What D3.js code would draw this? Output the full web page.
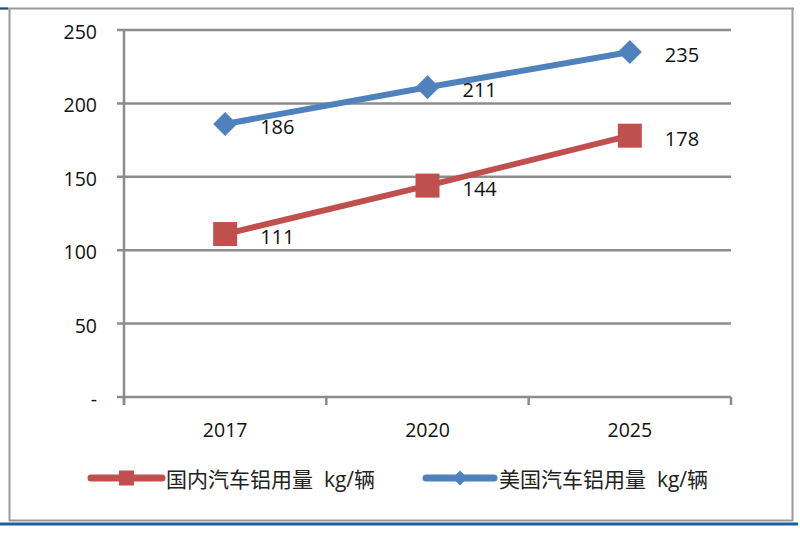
<!DOCTYPE html>
<html><head><meta charset="utf-8">
<script src="https://cdn.jsdelivr.net/npm/d3@7"></script>
<style>
html,body{margin:0;padding:0;background:#fff;}
svg text{font-family:"Open Sans","Noto Sans","Noto Sans CJK SC",sans-serif;}
</style></head>
<body>
<svg id="c" width="800" height="535"></svg>
<script>
const categories = ["2017","2020","2025"];
const domestic = [111,144,178];
const usa = [186,211,235];
const yTicks = [0,50,100,150,200,250];
const seriesNames = ["国内汽车铝用量  kg/辆","美国汽车铝用量  kg/辆"];
const colors = ["#C0504D","#4F81BD"];

const svg = d3.select("#c");
const gridCol="#8c8c8c";

// frame
svg.append("line").attr("x1",0).attr("x2",794).attr("y1",8.5).attr("y2",8.5).attr("stroke","#9a9a9a").attr("stroke-width",2);
svg.append("line").attr("x1",0).attr("x2",8).attr("y1",8.5).attr("y2",8.5).attr("stroke","#1f4e79").attr("stroke-width",2);
svg.append("line").attr("x1",9.5).attr("x2",9.5).attr("y1",8).attr("y2",521).attr("stroke","#9a9a9a").attr("stroke-width",2);
svg.append("line").attr("x1",792.5).attr("x2",792.5).attr("y1",8).attr("y2",521).attr("stroke","#9a9a9a").attr("stroke-width",2);
svg.append("line").attr("x1",9).attr("x2",793).attr("y1",520.5).attr("y2",520.5).attr("stroke","#9a9a9a").attr("stroke-width",2);
svg.append("line").attr("x1",0).attr("x2",798).attr("y1",524).attr("y2",524).attr("stroke","#1f5f99").attr("stroke-width",3);

const x = d3.scaleBand().domain(categories).range([124,731]);
const y = d3.scaleLinear().domain([0,250]).range([397,30]);

// gridlines
const gy = svg.append("g");
yTicks.forEach(t=>{
  gy.append("line").attr("x1",117).attr("x2",731).attr("y1",y(t)).attr("y2",y(t))
    .attr("stroke",gridCol).attr("stroke-width",2.5);
});
// y axis line
svg.append("line").attr("x1",124).attr("x2",124).attr("y1",30).attr("y2",405).attr("stroke",gridCol).attr("stroke-width",2.5);
// x ticks
const xt = [124].concat(categories.map(c=>x(c)+x.bandwidth()));
xt.forEach(v=>svg.append("line").attr("x1",v).attr("x2",v).attr("y1",397).attr("y2",405).attr("stroke",gridCol).attr("stroke-width",2.5));

// y labels
yTicks.forEach(t=>{
  svg.append("text").attr("x",97).attr("y",y(t)+9).attr("text-anchor","end")
    .attr("font-size",19.5).attr("fill","#111").text(t===0?"-":t);
});
// x labels
categories.forEach(c=>{
  svg.append("text").attr("x",x(c)+x.bandwidth()/2).attr("y",437).attr("text-anchor","middle")
    .attr("font-size",19.5).attr("fill","#111").text(c);
});

const line = d3.line().x((d,i)=>x(categories[i])+x.bandwidth()/2).y(d=>y(d));
function square(g,cx,cy,s,col){g.append("rect").attr("x",cx-s/2).attr("y",cy-s/2).attr("width",s).attr("height",s).attr("fill",col);}
function diamond(g,cx,cy,s,col){g.append("path").attr("d",`M${cx},${cy-s/2}L${cx+s/2},${cy}L${cx},${cy+s/2}L${cx-s/2},${cy}Z`).attr("fill",col);}

[[usa,1,diamond,24],[domestic,0,square,24]].forEach(([data,ci,mk,s])=>{
  const g=svg.append("g");
  g.append("path").attr("d",line(data)).attr("fill","none").attr("stroke",colors[ci]).attr("stroke-width",6);
  data.forEach((v,i)=>{
    const cx=x(categories[i])+x.bandwidth()/2, cy=y(v);
    mk(g,cx,cy,s,colors[ci]);
    svg.append("text").attr("x",cx+35).attr("y",cy+10).attr("font-size",20).attr("fill","#111").text(v);
  });
});

// legend
const lg=[{x1:91,x2:162,tx:166,c:0,mk:square,s:15},{x1:426,x2:494,tx:499,c:1,mk:diamond,s:15}];
lg.forEach(l=>{
  svg.append("line").attr("x1",l.x1).attr("x2",l.x2).attr("y1",478).attr("y2",478).attr("stroke",colors[l.c]).attr("stroke-width",7).attr("stroke-linecap","round");
  l.mk(svg,(l.x1+l.x2)/2,478,l.s,colors[l.c]);
  svg.append("text").attr("x",l.tx).attr("y",487).attr("font-size",21).attr("fill","#222").attr("xml:space","preserve").style("white-space","pre").text(seriesNames[l.c]);
});
</script>
</body></html>
